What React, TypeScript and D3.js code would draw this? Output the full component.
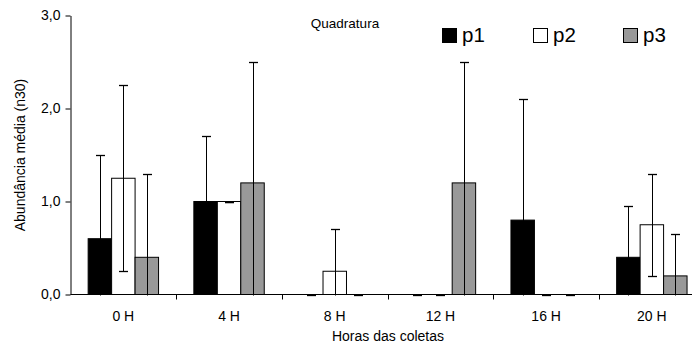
import { useRef, useEffect } from "react";
import * as d3 from "d3";

const categories = ["0 H", "4 H", "8 H", "12 H", "16 H", "20 H"];
const seriesNames = ["p1", "p2", "p3"];
const p1Values = [0.6, 1.0, 0, 0, 0.8, 0.4];
const p1Errors = [0.9, 0.7, 0, 0, 1.3, 0.55];
const p2Values = [1.25, 1.0, 0.25, 0, 0, 0.75];
const p2Errors = [1.0, 0, 0.45, 0, 0, 0.55];
const p3Values = [0.4, 1.2, 0, 1.2, 0, 0.2];
const p3Errors = [0.9, 1.3, 0, 1.3, 0, 0.45];
const yTicks = [0, 1, 2, 3];

const FILLS = ["#000000", "#ffffff", "#999999"];
const FONT = "Arial, 'Liberation Sans', sans-serif";

export default function App() {
  const svgRef = useRef<SVGSVGElement>(null);

  useEffect(() => {
    if (!svgRef.current) return;
    const svg = d3.select(svgRef.current);
    svg.selectAll("*").remove();

    const W = 692, H = 347;
    const x0 = 70.5, catW = 105.7;
    svg.attr("width", W).attr("height", H);

    const x = d3.scaleBand().domain(categories).range([x0, x0 + catW * categories.length]).padding(0);
    const barW = x.bandwidth() * 0.222;
    const off = (x.bandwidth() - barW * 3) / 2;
    const xs = d3.scaleBand().domain(seriesNames).range([off, off + barW * 3]).padding(0);
    const y = d3.scaleLinear().domain([0, 3]).range([294.5, 15.5]);

    const values = [p1Values, p2Values, p3Values];
    const errors = [p1Errors, p2Errors, p3Errors];

    const g = svg.append("g");

    // bars
    seriesNames.forEach((s, si) => {
      categories.forEach((c, ci) => {
        const v = values[si][ci];
        const bx = (x(c) ?? 0) + (xs(s) ?? 0);
        g.append("rect")
          .attr("x", bx).attr("y", y(v))
          .attr("width", barW).attr("height", y(0) - y(v))
          .attr("fill", FILLS[si]).attr("stroke", "#000").attr("stroke-width", 1);
      });
    });

    // error bars (clipped at zero like the original)
    seriesNames.forEach((s, si) => {
      categories.forEach((c, ci) => {
        const v = values[si][ci];
        const e = errors[si][ci];
        const cx = Math.round((x(c) ?? 0) + (xs(s) ?? 0) + barW / 2) + 0.5;
        const top = Math.round(y(v + e)) + 0.5;
        const lowV = Math.max(0, v - e);
        const bot = Math.round(y(lowV)) + 0.5;
        g.append("line").attr("x1", cx).attr("x2", cx).attr("y1", top).attr("y2", bot)
          .attr("stroke", "#000").attr("stroke-width", 1);
        g.append("line").attr("x1", cx - 4.5).attr("x2", cx + 4.5).attr("y1", top).attr("y2", top)
          .attr("stroke", "#000").attr("stroke-width", 1.3);
        if (v - e > 0) {
          g.append("line").attr("x1", cx - 4.5).attr("x2", cx + 4.5).attr("y1", bot).attr("y2", bot)
            .attr("stroke", "#000").attr("stroke-width", 1.3);
        }
      });
    });

    // y axis
    g.append("g").attr("transform", `translate(${x0},0)`)
      .call(d3.axisLeft(y).tickValues(yTicks).tickSize(5).tickSizeOuter(0).tickPadding(5)
        .tickFormat(d => (d as number).toFixed(1).replace(".", ",")))
      .call(a => {
        a.select(".domain").attr("stroke", "#000");
        a.selectAll("line").attr("stroke", "#000");
        a.selectAll("text").attr("fill", "#000").attr("font-size", 14).attr("font-family", FONT);
      });

    // x axis
    g.append("line").attr("x1", x0).attr("x2", W).attr("y1", y(0)).attr("y2", y(0)).attr("stroke", "#000");
    categories.forEach((c, ci) => {
      const bx = Math.round(x(c) ?? 0) + 0.5;
      if (ci > 0) {
        g.append("line").attr("x1", bx).attr("x2", bx).attr("y1", y(0)).attr("y2", y(0) + 5).attr("stroke", "#000");
      }
      g.append("text").attr("x", (x(c) ?? 0) + x.bandwidth() / 2).attr("y", 321)
        .attr("text-anchor", "middle").attr("font-size", 14).attr("font-family", FONT).text(c);
    });

    // axis titles
    g.append("text").attr("x", 388).attr("y", 341).attr("text-anchor", "middle")
      .attr("font-size", 14).attr("font-family", FONT).text("Horas das coletas");
    g.append("text").attr("transform", "translate(25,155) rotate(-90)").attr("text-anchor", "middle")
      .attr("font-size", 14).attr("font-family", FONT).text("Abundância média (n30)");

    // title
    g.append("text").attr("x", 345).attr("y", 28).attr("text-anchor", "middle")
      .attr("font-size", 13.5).attr("font-family", FONT).text("Quadratura");

    // legend
    const legendX = [442, 533, 623];
    seriesNames.forEach((s, si) => {
      g.append("rect").attr("x", legendX[si] + 0.5).attr("y", 28.5).attr("width", 14).attr("height", 14)
        .attr("fill", FILLS[si]).attr("stroke", "#000");
      g.append("text").attr("x", legendX[si] + 20).attr("y", 42)
        .attr("font-size", 20.5).attr("font-family", FONT).text(s);
    });
  }, []);

  return (
    <div style={{ position: "absolute", left: 0, top: 0, background: "#fff" }}>
      <svg ref={svgRef} style={{ display: "block" }} />
    </div>
  );
}
